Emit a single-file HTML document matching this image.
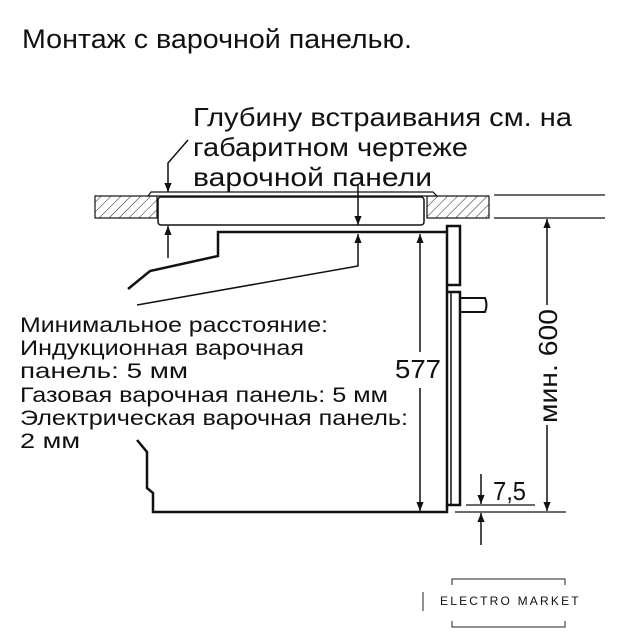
<!DOCTYPE html>
<html><head><meta charset="utf-8"><style>
html,body{margin:0;padding:0;background:#fff;}
svg{display:block;}
text{font-family:"Liberation Sans",sans-serif;fill:#111;}
</style></head><body>
<svg width="635" height="640" viewBox="0 0 635 640" xmlns="http://www.w3.org/2000/svg">
<defs>
<pattern id="h" width="7" height="7" patternUnits="userSpaceOnUse" patternTransform="rotate(45)">
<rect width="7" height="7" fill="#fff"/><line x1="0" y1="0" x2="0" y2="7" stroke="#222" stroke-width="1"/>
</pattern>
<marker id="a" viewBox="0 0 10 10" refX="10" refY="5" markerWidth="9" markerHeight="9" orient="auto-start-reverse" markerUnits="userSpaceOnUse">
<path d="M0,1 L10,5 L0,9 z" fill="#111"/></marker>
</defs>
<text x="22" y="48" font-size="27" textLength="390" lengthAdjust="spacingAndGlyphs">Монтаж с варочной панелью.</text>
<text x="193" y="126" font-size="26" textLength="379" lengthAdjust="spacingAndGlyphs">Глубину встраивания см. на</text>
<text x="193" y="156" font-size="26" textLength="275" lengthAdjust="spacingAndGlyphs">габаритном чертеже</text>
<text x="193" y="186" font-size="26" textLength="239" lengthAdjust="spacingAndGlyphs">варочной панели</text>
<g font-size="21">
<text x="20" y="332" textLength="308" lengthAdjust="spacingAndGlyphs">Минимальное расстояние:</text>
<text x="20" y="355" textLength="284" lengthAdjust="spacingAndGlyphs">Индукционная варочная</text>
<text x="20" y="378" textLength="168" lengthAdjust="spacingAndGlyphs">панель: 5 мм</text>
<text x="20" y="402" textLength="368" lengthAdjust="spacingAndGlyphs">Газовая варочная панель: 5 мм</text>
<text x="20" y="425" textLength="388" lengthAdjust="spacingAndGlyphs">Электрическая варочная панель:</text>
<text x="20" y="448" textLength="60" lengthAdjust="spacingAndGlyphs">2 мм</text>
</g>
<g stroke="#111" fill="none">
<rect x="95" y="196" width="62" height="22" fill="url(#h)" stroke-width="1.2"/>
<rect x="427" y="196" width="62" height="22" fill="url(#h)" stroke-width="1.2"/>
<line x1="494" y1="195" x2="605" y2="195" stroke-width="1.2"/>
<line x1="494" y1="218" x2="605" y2="218" stroke-width="1.2"/>
<path d="M148,196 L151,192 L433,192 L437,196 Z" stroke-width="1.2" fill="#fff"/>
<rect x="158" y="197" width="266" height="28" rx="3" stroke-width="1.5"/>
<path d="M128,289 L150,271 L218,256 L218,232 L447,232" stroke-width="2.5"/>
<path d="M137,440 L147,452 L147,488 L153,493 L153,512 L447,512 L447,505" stroke-width="2.5"/>
<path d="M447,226 L460,226 L460,285 L447,285 L447,292 L460,292 L460,505 L447,505 Z" stroke-width="2.5" fill="#fff"/>
<line x1="451" y1="292" x2="451" y2="505" stroke-width="1.5"/>
<path d="M460,298 L485,298 Q488,305 485,312 L460,312" stroke-width="2"/>
<path d="M188,140 L168,163 L168,192" stroke-width="1.5" marker-end="url(#a)"/>
<line x1="168" y1="258" x2="168" y2="226" stroke-width="1.5" marker-end="url(#a)"/>
<line x1="358" y1="185" x2="358" y2="225" stroke-width="1.5" marker-end="url(#a)"/>
<path d="M137,305 L358,266 L358,234" stroke-width="1.5" marker-end="url(#a)"/>
<line x1="420" y1="352" x2="420" y2="234" stroke-width="1.5" marker-end="url(#a)"/>
<line x1="420" y1="388" x2="420" y2="511" stroke-width="1.5" marker-end="url(#a)"/>
<line x1="547" y1="305" x2="547" y2="219" stroke-width="1.5" marker-end="url(#a)"/>
<line x1="547" y1="425" x2="547" y2="511" stroke-width="1.5" marker-end="url(#a)"/>
<line x1="466" y1="505" x2="535" y2="505" stroke-width="1.2"/>
<line x1="455" y1="512" x2="566" y2="512" stroke-width="1.2"/>
<line x1="481" y1="474" x2="481" y2="504" stroke-width="1.5" marker-end="url(#a)"/>
<line x1="481" y1="545" x2="481" y2="513" stroke-width="1.5" marker-end="url(#a)"/>
</g>
<text x="395" y="378" font-size="26" textLength="46" lengthAdjust="spacingAndGlyphs">577</text>
<text x="493" y="500" font-size="26" textLength="33" lengthAdjust="spacingAndGlyphs">7,5</text>
<text transform="translate(557,366) rotate(-90)" font-size="26" text-anchor="middle" textLength="114" lengthAdjust="spacingAndGlyphs">мин. 600</text>
<g stroke="#222" fill="none" stroke-width="1">
<line x1="423" y1="592" x2="423" y2="611"/>
<path d="M452,585 L452,579 L565,579 L565,585"/>
<path d="M452,621 L452,627 L565,627 L565,621"/>
</g>
<text x="440" y="605" font-size="12" letter-spacing="2.2">ELECTRO MARKET</text>
</svg>
</body></html>
